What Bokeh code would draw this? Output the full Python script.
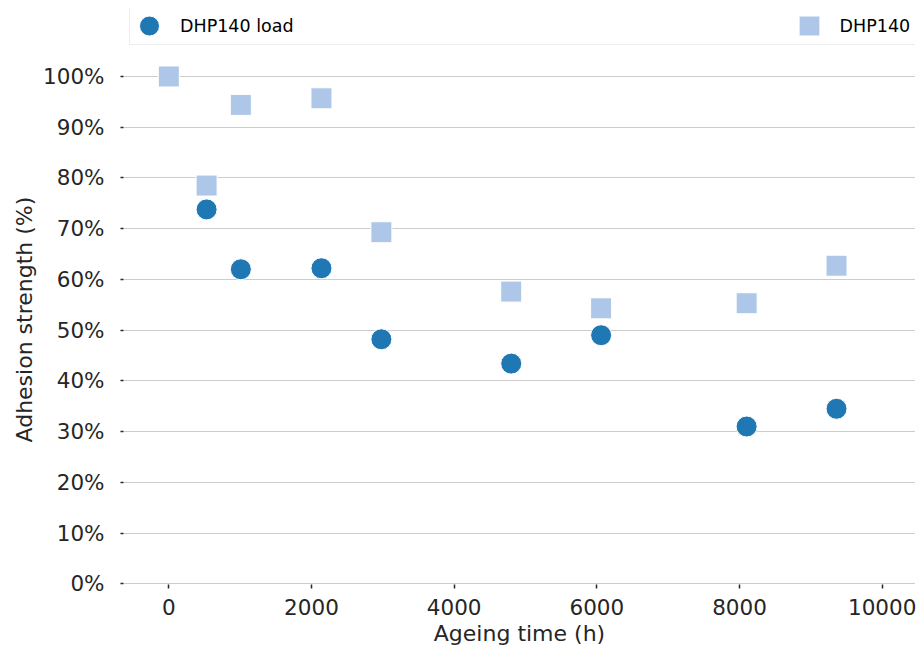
from bokeh.plotting import figure
from bokeh.models import Range1d, FixedTicker, Legend, LegendItem, ColumnDataSource, Title
from bokeh.embed import file_html
from bokeh.resources import INLINE

# ---- data ----
ageing_time = [0, 530, 1010, 2140, 2980, 4800, 6060, 8100, 9360]
adhesion_load = [100.0, 73.8, 62.0, 62.2, 48.2, 43.4, 49.0, 31.0, 34.5]
adhesion_dhp140 = [100.0, 78.5, 94.4, 95.7, 69.3, 57.6, 54.3, 55.3, 62.7]
series_names = ["DHP140 load", "DHP140"]
x_ticks = [0, 2000, 4000, 6000, 8000, 10000]
y_ticks = [0, 10, 20, 30, 40, 50, 60, 70, 80, 90, 100]
y_tick_labels = ["0%", "10%", "20%", "30%", "40%", "50%", "60%", "70%", "80%", "90%", "100%"]
x_title = "Ageing time (h)"
y_title = "Adhesion strength (%)"

FONT = "DejaVu Sans"
TXT = "#262626"

p = figure(width=917, height=651, output_backend="svg", toolbar_location=None,
           x_range=Range1d(-635, 10467), y_range=Range1d(-0.14, 113.4),
           min_border_left=123, min_border_right=2, min_border_top=8,
           min_border_bottom=67)
p.outline_line_color = None

src = ColumnDataSource(dict(t=ageing_time, load=adhesion_load, dhp=adhesion_dhp140))
r1 = p.ellipse(x="t", y="load", width=21, height=21, width_units="screen",
               height_units="screen", source=src, fill_color="#1f77b4",
               line_color="white", line_width=1)
r2 = p.rect(x="t", y="dhp", width=21, height=21, width_units="screen",
            height_units="screen", source=src, fill_color="#aec7e8",
            line_color="white", line_width=1)

legend = Legend(items=[LegendItem(label=series_names[0], renderers=[r1]),
                       LegendItem(label=series_names[1], renderers=[r2])],
                orientation="horizontal", location=(6, 539), margin=0,
                padding=6, spacing=502, glyph_width=26, glyph_height=25,
                label_standoff=18, label_text_font=FONT,
                label_text_font_size="17.5px", label_text_color="black",
                border_line_color="#dcdcdc", background_fill_alpha=0.8)
p.add_layout(legend, "center")

p.xaxis.ticker = FixedTicker(ticks=x_ticks)
p.yaxis.ticker = FixedTicker(ticks=y_ticks)
p.yaxis.major_label_overrides = {t: l for t, l in zip(y_ticks, y_tick_labels)}

p.xgrid.visible = False
p.ygrid.grid_line_color = "#9a9a9a"
p.ygrid.grid_line_dash = "1 1"
p.ygrid.grid_line_width = 1
p.ygrid.bounds = (0, 10000)

for ax in (p.xaxis[0], p.yaxis[0]):
    ax.axis_line_color = None
    ax.minor_tick_line_color = None
    ax.major_tick_in = 0
    ax.major_tick_line_color = TXT
    ax.major_tick_line_width = 1.5
    ax.major_label_text_font = FONT
    ax.major_label_text_font_size = "21.5px"
    ax.major_label_text_color = TXT
    ax.axis_label_text_font = FONT
    ax.axis_label_text_font_size = "22px"
    ax.axis_label_text_font_style = "normal"
    ax.axis_label_text_color = TXT

p.xaxis.axis_label = x_title
p.xaxis.major_tick_out = 4
p.yaxis.major_tick_out = 3
p.xaxis.major_label_standoff = 10
p.yaxis.major_label_standoff = 16
p.xaxis.axis_label_standoff = 3

ytitle = Title(text=y_title, align="left", offset=142, text_font=FONT,
               text_font_size="22px", text_font_style="normal",
               text_color=TXT, standoff=8)
p.add_layout(ytitle, "left")

open("out.html", "w").write(file_html(p, INLINE))
